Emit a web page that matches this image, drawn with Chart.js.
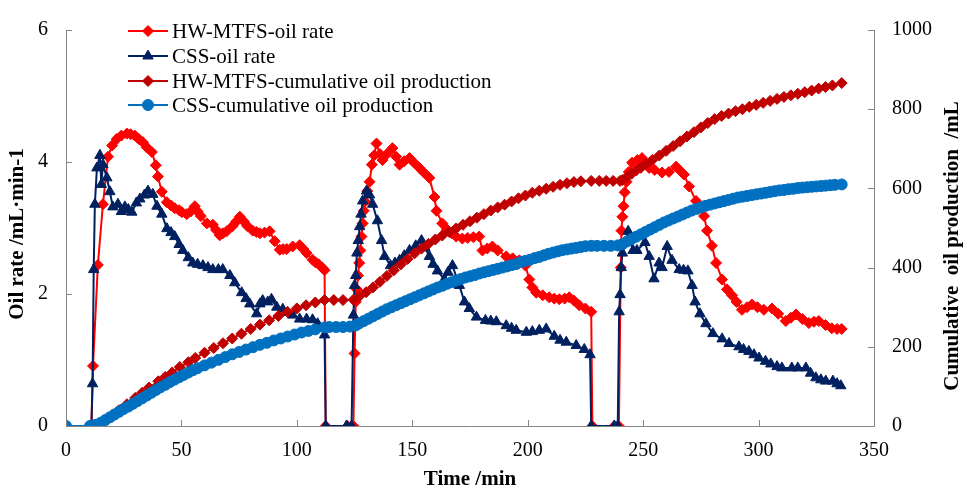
<!DOCTYPE html>
<html>
<head>
<meta charset="utf-8">
<script src="https://cdn.jsdelivr.net/npm/chart.js@4.4.1/dist/chart.umd.min.js"></script>
<style>
  html, body { margin: 0; padding: 0; background: #ffffff; }
  #wrap { width: 968px; height: 488px; }
</style>
</head>
<body>
<div id="wrap"><canvas id="chart" width="968" height="488"></canvas></div>
<script>
// HW-MTFS oil rate, mL/min
const hwRateTime = [0, 11, 11.7, 13.8, 16, 18.2, 20, 22, 24, 26.4, 28, 29.8, 31.5, 33.3, 35, 37.2, 38.9, 39.8, 41.5, 43.7, 45.5, 47.1, 49, 50.2, 52.3, 54, 55.8, 57, 58.4, 61, 63.6, 65, 66.6, 68, 69.6, 72.2, 73.8, 75.3, 77, 78.5, 80.9, 82.5, 84, 86, 88.2, 90.4, 92.6, 94, 95.6, 98.2, 101.2, 102.8, 104.2, 106.8, 108, 109.4, 111, 112, 112.5, 122, 124.5,
  125, 125.5, 126, 126.5, 127, 127.5, 128, 128.5, 129, 129.5, 130.5, 131.5, 132.5, 133.5, 134.5, 136, 137.1, 139, 141.4, 143, 144.5, 146.5, 148.8, 151, 153.1, 155, 157.4, 159.6, 160.5, 163, 165, 167, 169, 171.7, 174, 176.5, 179, 180.4, 182.5, 184.7, 187, 190.7, 193.5, 196.4, 199, 200.7, 202, 203.7, 206.5, 209.3, 211.5, 213.7, 216, 218, 220, 222.3, 225, 227.5, 228, 237.5, 239.5,
  240.3, 240.6, 241, 241.5, 242, 242.8, 243.8, 245.2, 247.5, 249.5, 251, 252.6, 255, 258.2, 261.2, 264.3, 266, 267.7, 269.9, 272.9, 276.4, 277.7, 279.8, 281.6, 284.2, 286.3, 288.5, 290.5, 292.8, 295, 297.1, 299.5, 302.3, 305.8, 308.5, 311.8, 314, 316.2, 319, 321.8, 324, 326.1, 329, 331.7, 334, 336];
const hwRate = [0, 0, 0.91, 2.44, 3.36, 4.08, 4.25, 4.35, 4.4, 4.43, 4.42, 4.4, 4.35, 4.3, 4.22, 4.15, 3.95, 3.78, 3.55, 3.39, 3.34, 3.3, 3.27, 3.24, 3.21, 3.25, 3.33, 3.25, 3.18, 3.07, 3.05, 2.97, 2.89, 2.92, 2.95, 3.03, 3.1, 3.17, 3.1, 3.03, 2.96, 2.94, 2.92, 2.93, 2.95, 2.8, 2.67, 2.68, 2.68, 2.72, 2.74, 2.68, 2.62, 2.52, 2.48, 2.45, 2.4, 2.36, 0, 0, 0,
  1.1, 1.88, 2.07, 2.28, 2.47, 2.66, 2.87, 3.07, 3.26, 3.4, 3.56, 3.7, 3.96, 4.1, 4.28, 4.12, 4.03, 4.12, 4.21, 4.08, 3.96, 4.01, 4.06, 3.98, 3.91, 3.84, 3.76, 3.47, 3.26, 3.07, 2.98, 2.92, 2.87, 2.84, 2.85, 2.86, 2.87, 2.66, 2.69, 2.72, 2.66, 2.57, 2.54, 2.51, 2.43, 2.22, 2.1, 2.02, 1.98, 1.95, 1.93, 1.92, 1.93, 1.95, 1.9, 1.83, 1.78, 1.73, 0, 0, 0,
  2.4, 2.96, 3.17, 3.33, 3.54, 3.7, 3.85, 3.99, 4.03, 4.06, 3.98, 3.91, 3.88, 3.84, 3.85, 3.93, 3.87, 3.81, 3.63, 3.41, 3.18, 2.96, 2.73, 2.47, 2.22, 2.07, 1.98, 1.88, 1.76, 1.8, 1.84, 1.8, 1.76, 1.78, 1.7, 1.59, 1.64, 1.69, 1.62, 1.56, 1.58, 1.59, 1.53, 1.48, 1.47, 1.47];

// CSS oil rate, mL/min
const cssRateTime = [0, 11, 11.5, 12, 12.5, 13.4, 14.7, 15.3, 16, 17.7, 19, 20.3, 22.5, 24, 25.5, 27, 28.5, 30.5, 32, 34, 35.5, 37.6, 39.4, 41.5, 43.7, 45.5, 47.1, 49, 50.6, 53, 54.9, 57, 59.3, 61.5, 63.6, 66, 67.9, 71, 73.1, 76.1, 78, 79.6, 82.6, 84, 85.2, 87.4, 89, 91.3, 93.9, 96, 98.2, 101.2, 104.2, 106.8, 109, 112, 112.5, 121.5, 123.7,
  124.5, 125, 125.5, 126, 126.6, 127.2, 127.8, 128.5, 130.2, 131.5, 132.8, 134.9, 136.7, 138, 140.6, 142.5, 144.5, 146.5, 148.8, 151.5, 154, 155.5, 157.4, 159, 160.9, 163.9, 165.5, 167.4, 170.4, 172.6, 174.7, 177.8, 181.7, 184, 186.4, 190.7, 193, 195, 199.4, 202, 205, 208, 211.5, 214, 216.7, 221, 224.5, 227, 227.5, 237.5, 239,
  239.6, 240, 240.5, 241, 243.5, 245.6, 247.3, 250.8, 252.6, 254.7, 256.9, 258.2, 260.4, 262.5, 265.6, 267.5, 269.4, 271.2, 272.5, 274.6, 277.2, 280.2, 284.2, 287.2, 291.5, 293.5, 295.8, 298, 300.2, 303, 305.3, 308, 310.1, 314.4, 317, 320.5, 322.5, 324.8, 327, 329.1, 332.2, 334, 335.6];
const cssRate = [0, 0, 0.64, 2.37, 3.36, 3.91, 4.1, 3.66, 3.96, 3.76, 3.55, 3.32, 3.36, 3.25, 3.32, 3.28, 3.24, 3.38, 3.44, 3.5, 3.56, 3.51, 3.33, 3.21, 2.99, 2.93, 2.87, 2.75, 2.66, 2.55, 2.47, 2.45, 2.43, 2.4, 2.37, 2.37, 2.37, 2.28, 2.17, 2.02, 1.93, 1.85, 1.7, 1.85, 1.9, 1.88, 1.92, 1.8, 1.77, 1.72, 1.68, 1.62, 1.62, 1.61, 1.55, 1.38, 0, 0, 0,
  1.68, 2.13, 2.28, 2.62, 2.81, 3.02, 3.21, 3.41, 3.56, 3.5, 3.36, 3.11, 2.81, 2.57, 2.43, 2.47, 2.51, 2.58, 2.66, 2.73, 2.81, 2.7, 2.57, 2.45, 2.35, 2.22, 2.33, 2.43, 2.13, 1.88, 1.78, 1.65, 1.6, 1.59, 1.58, 1.52, 1.48, 1.45, 1.42, 1.43, 1.45, 1.47, 1.36, 1.3, 1.27, 1.22, 1.16, 1.08, 0, 0, 0,
  1.73, 1.99, 2.4, 2.62, 2.95, 2.66, 2.66, 2.78, 2.57, 2.23, 2.47, 2.4, 2.72, 2.51, 2.37, 2.36, 2.35, 2.13, 1.88, 1.7, 1.55, 1.4, 1.32, 1.25, 1.2, 1.16, 1.13, 1.08, 1.03, 0.98, 0.94, 0.9, 0.88, 0.88, 0.88, 0.88, 0.8, 0.73, 0.7, 0.68, 0.68, 0.64, 0.61];

// HW-MTFS cumulative oil production, mL
const hwCumTime = [11.7, 14, 17, 20, 23, 26.4, 30, 33, 36, 40, 43, 46, 49.3, 53, 56, 60, 64, 68, 72, 76, 80, 84, 88, 92, 96, 100, 104, 108, 112, 116, 120, 124.5,
  127, 130, 133, 136, 139, 142, 145, 148, 151, 154, 157, 160, 163, 166, 169, 172, 175, 178, 181, 184, 187, 190, 193, 196, 199, 202, 205, 208, 211, 214, 217, 220, 223, 227.5, 231, 234, 237, 240,
  241, 243, 245, 247, 249, 251.3, 254, 257, 260, 263, 266, 269, 272, 275, 278, 281, 284, 287, 290, 293, 296, 299, 302, 305, 308, 311, 314, 317, 320, 323, 326, 329, 332, 336];
const hwCum = [0, 4, 14, 27, 40, 55, 71, 84, 97, 113, 124, 135, 149, 161, 172, 185, 197, 209, 221, 233, 245, 256, 267, 278, 288, 297, 305, 312, 318, 318, 318, 319,
  327, 338, 350, 364, 379, 393, 408, 422, 436, 448, 460, 471, 481, 490, 499, 508, 517, 526, 535, 544, 552, 559, 567, 575, 582, 589, 594, 599, 604, 609, 613, 616, 618, 619, 619, 619, 619, 619,
  621, 629, 637, 645, 652, 662, 672, 683, 695, 707, 719, 731, 742, 754, 765, 775, 783, 789, 795, 800, 806, 811, 816, 821, 826, 831, 835, 839, 843, 847, 852, 856, 860, 866];

// CSS cumulative oil production, mL
const cssCumTime = [0, 10.4, 11.7, 13, 15, 17, 19, 21, 23, 25, 27, 29, 31, 33, 35, 37, 39, 41, 43, 45, 47, 49, 51, 53, 55, 57, 60, 63, 66, 69, 72, 75, 78, 81, 84, 87, 90, 93, 96, 99, 102, 105, 108, 112, 114, 117, 120, 123,
  125.5, 127, 129, 131, 133, 135, 137, 139, 141, 143, 145, 147, 149, 151, 153, 155, 157, 159, 161, 163, 165, 167, 169, 171, 173, 175, 177, 179, 181, 183, 185, 187, 189, 191, 193, 195, 197, 199, 201, 203, 205, 207, 209, 211, 213, 215, 217, 219, 221, 223, 225, 227.5, 230, 233, 236, 239,
  241, 243, 245, 247, 249, 251, 253, 255, 257, 259, 261, 263, 265, 267, 269, 271, 273, 275, 277, 279, 281, 283, 285, 287, 289, 291, 293, 295, 297, 299, 301, 303, 305, 307, 309, 311, 313, 315, 317, 319, 321, 323, 325, 327, 329, 331, 333, 336];
const cssCum = [0, 0, 0, 3, 8, 15, 22, 29, 36, 43, 49, 56, 63, 70, 77, 84, 91, 98, 104, 111, 117, 123, 129, 135, 141, 146, 153, 160, 167, 174, 181, 187, 193, 199, 205, 210, 216, 221, 226, 231, 236, 240, 244, 249, 250, 250, 250, 251,
  254, 259, 265, 271, 277, 283, 289, 295, 300, 305, 310, 315, 320, 325, 330, 335, 340, 345, 350, 354, 359, 363, 367, 371, 375, 378, 381, 385, 388, 391, 394, 397, 400, 403, 406, 409, 414, 417, 420, 424, 427, 431, 435, 438, 441, 444, 446, 448, 450, 452, 454, 455, 455, 455, 455, 456,
  459, 466, 472, 478, 484, 490, 496, 502, 508, 514, 519, 524, 529, 534, 539, 544, 548, 552, 556, 559, 562, 565, 568, 571, 574, 577, 579, 581, 583, 585, 587, 589, 591, 593, 595, 596, 598, 599, 601, 602, 603, 604, 605, 606, 607, 608, 609, 610];

// axis tick values
const timeTicks = [0, 50, 100, 150, 200, 250, 300, 350];
const rateTicks = [0, 2, 4, 6];
const cumTicks = [0, 200, 400, 600, 800, 1000];

const seriesNames = ['HW-MTFS-oil rate', 'CSS-oil rate', 'HW-MTFS-cumulative oil production', 'CSS-cumulative oil production'];

const pairs = (xs, ys) => xs.map((x, i) => ({ x: x, y: ys[i] }));

const SERIF = '"Liberation Serif", "Times New Roman", serif';
const AXIS_GREY = '#868686';

// tick marks drawn inward from each axis line
const innerTicks = {
  id: 'innerTicks',
  afterDraw(chart) {
    const { ctx, chartArea: a, scales } = chart;
    const len = 6;
    ctx.save();
    ctx.strokeStyle = AXIS_GREY;
    ctx.lineWidth = 1;
    ctx.beginPath();
    scales.x.ticks.forEach(t => {
      const px = Math.round(scales.x.getPixelForValue(t.value)) + 0.5;
      ctx.moveTo(px, a.bottom);
      ctx.lineTo(px, a.bottom - len);
    });
    scales.y.ticks.forEach(t => {
      const py = Math.round(scales.y.getPixelForValue(t.value)) + 0.5;
      ctx.moveTo(a.left, py);
      ctx.lineTo(a.left + len, py);
    });
    scales.y1.ticks.forEach(t => {
      const py = Math.round(scales.y1.getPixelForValue(t.value)) + 0.5;
      ctx.moveTo(a.right, py);
      ctx.lineTo(a.right - len, py);
    });
    ctx.stroke();
    ctx.restore();
  }
};

// vertical axis titles, both reading bottom-to-top
const sideTitles = {
  id: 'sideTitles',
  afterDraw(chart) {
    const { ctx } = chart;
    ctx.save();
    ctx.fillStyle = '#000';
    ctx.font = 'bold 21px ' + SERIF;
    ctx.textAlign = 'center';
    ctx.textBaseline = 'middle';
    [[18, 234, 'Oil rate /mL\u00B7min-1'], [953, 246, 'Cumulative  oil production  /mL']].forEach(([x, y, txt]) => {
      ctx.save();
      ctx.translate(x, y);
      ctx.rotate(-Math.PI / 2);
      ctx.fillText(txt, 0, 0);
      ctx.restore();
    });
    ctx.restore();
  }
};

// legend placed inside the plot, upper left
const insideLegend = {
  id: 'insideLegend',
  afterDraw(chart) {
    const { ctx } = chart;
    const rows = [31, 56, 81, 105];
    ctx.save();
    ctx.font = '21px ' + SERIF;
    ctx.textBaseline = 'middle';
    ctx.textAlign = 'left';
    chart.data.datasets.forEach((ds, i) => {
      const y = rows[i];
      ctx.strokeStyle = ds.borderColor;
      ctx.lineWidth = 2;
      ctx.beginPath();
      ctx.moveTo(128, y);
      ctx.lineTo(168, y);
      ctx.stroke();
      ctx.fillStyle = ds.pointBackgroundColor;
      ctx.strokeStyle = ds.pointBorderColor;
      ctx.lineWidth = 1;
      Chart.helpers.drawPoint(ctx, { pointStyle: ds.pointStyle, radius: ds.pointRadius, rotation: 0, borderWidth: 1 }, 148, y);
      ctx.fillStyle = '#000';
      ctx.fillText(ds.label, 172, y + 1);
    });
    ctx.restore();
  }
};

function lineSet(label, data, color, style, radius, axis, order) {
  return {
    label: label,
    data: data,
    yAxisID: axis,
    order: order,
    borderColor: color,
    backgroundColor: color,
    pointBackgroundColor: color,
    pointBorderColor: color,
    pointStyle: style,
    pointRadius: radius,
    pointBorderWidth: 1,
    borderWidth: 2,
    tension: 0,
    fill: false
  };
}

const plainLabel = v => String(v);

new Chart(document.getElementById('chart'), {
  type: 'line',
  data: {
    datasets: [
      lineSet(seriesNames[0], pairs(hwRateTime, hwRate), '#FF0000', 'rectRot', 5.5, 'y', 3),
      lineSet(seriesNames[1], pairs(cssRateTime, cssRate), '#002060', 'triangle', 6, 'y', 2),
      lineSet(seriesNames[2], pairs(hwCumTime, hwCum), '#C00000', 'rectRot', 5.5, 'y1', 1),
      lineSet(seriesNames[3], pairs(cssCumTime, cssCum), '#0070C0', 'circle', 5.5, 'y1', 0)
    ]
  },
  options: {
    responsive: false,
    animation: false,
    devicePixelRatio: 1,
    layout: { padding: { top: 23, left: 0, right: 0, bottom: 0 } },
    plugins: {
      legend: { display: false },
      tooltip: { enabled: false }
    },
    scales: {
      x: {
        type: 'linear',
        min: 0,
        max: 350,
        afterBuildTicks: s => { s.ticks = timeTicks.map(v => ({ value: v })); },
        afterFit: s => { s.height = 62; },
        grid: { display: false, drawTicks: false },
        border: { display: true, color: AXIS_GREY, width: 1 },
        ticks: { color: '#000', font: { family: SERIF, size: 20 }, padding: 13, maxRotation: 0, autoSkip: false, callback: plainLabel },
        title: { display: true, text: 'Time /min', color: '#000', font: { family: SERIF, size: 21, weight: 'bold', lineHeight: 1 }, padding: { top: 0, bottom: -2 } }
      },
      y: {
        type: 'linear',
        position: 'left',
        min: 0,
        max: 6,
        afterBuildTicks: s => { s.ticks = rateTicks.map(v => ({ value: v })); },
        afterFit: s => { s.width = 66; },
        grid: { display: false, drawTicks: false },
        border: { display: true, color: AXIS_GREY, width: 1 },
        ticks: { color: '#000', font: { family: SERIF, size: 20 }, padding: 18, callback: plainLabel }
      },
      y1: {
        type: 'linear',
        position: 'right',
        min: 0,
        max: 1000,
        afterBuildTicks: s => { s.ticks = cumTicks.map(v => ({ value: v })); },
        afterFit: s => { s.width = 94; },
        grid: { display: false, drawTicks: false },
        border: { display: true, color: AXIS_GREY, width: 1 },
        ticks: { color: '#000', font: { family: SERIF, size: 20 }, padding: 18, callback: plainLabel }
      }
    }
  },
  plugins: [innerTicks, sideTitles, insideLegend]
});
</script>
</body>
</html>
